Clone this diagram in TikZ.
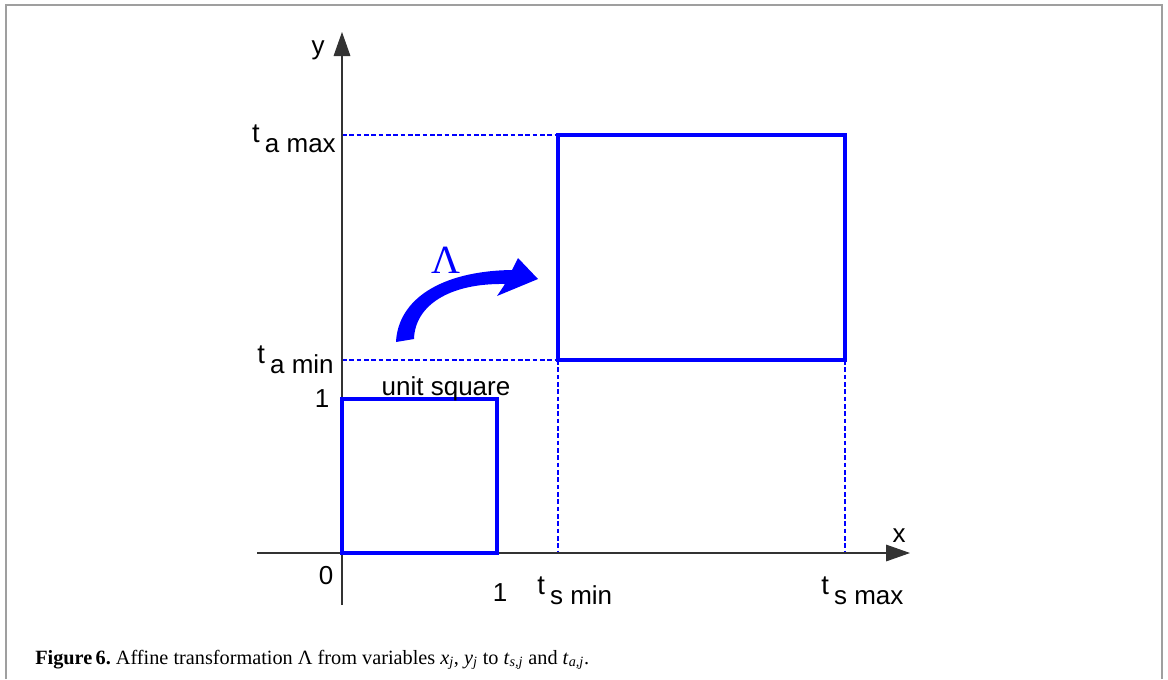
\documentclass[tikz,border=0pt]{standalone}
\usepackage{fontspec}
\setmainfont{Liberation Sans}
\newfontfamily\capfont{Liberation Serif}
\usetikzlibrary{arrows.meta}
\definecolor{pureblue}{RGB}{0,0,255}
\newcommand\tsub[1]{{\fontsize{20.5}{22}\selectfont t}\hspace{0.2em}\raisebox{-8pt}{#1}}
\newcommand\ivar[2]{\textit{#1}\textsubscript{\textit{#2}}}
\begin{document}
\frenchspacing
\begin{tikzpicture}[x=0.75pt,y=-0.75pt,
  lab/.style={inner sep=0pt,font=\fontsize{19.5}{22}\selectfont},
  axis/.style={black!80,line width=0.8pt,-{Triangle[length=18pt,width=12.5pt]}},
  box/.style={draw=pureblue,line width=2.8pt},
  guide/.style={draw=pureblue,line width=1pt,dash pattern=on 3.5pt off 2pt}]
\useasboundingbox (0,0) rectangle (1168,679);
\draw[gray!75,line width=1.5pt] (6,679) -- (6,5) -- (1162,5) -- (1162,679);
% guides
\coordinate (ay1) at (342,135);
\coordinate (ay2) at (342,360);
\coordinate (bx1) at (558,553);
\coordinate (bx2) at (845,553);
\draw[guide] (ay1) -- (558,135);
\draw[guide] (ay2) -- (558,360);
\draw[guide] (558,360) -- (bx1);
\draw[guide] (845,360) -- (bx2);
% axes
\coordinate (ybot) at (342,605);
\coordinate (ytop) at (342,32);
\coordinate (xl) at (257,553);
\coordinate (xr) at (910,553);
\draw[axis] (ybot) -- (ytop);
\draw[axis] (xl) -- (xr);
% boxes
\draw[box] (342,399) rectangle (497,553);
\draw[box] (558,135) rectangle (845,360);
% curved arrow
\fill[pureblue] (396,342) .. controls (398,300) and (440,271) .. (512,270)
  -- (518,258) -- (538,279) -- (497,296) -- (505,284)
  .. controls (450,283) and (415,305) .. (414,339) -- cycle;
\node[inner sep=0pt,anchor=base,text=pureblue,font=\capfont\fontsize{30}{32}\selectfont] (lam) at (446,273) {Λ};
% labels
\node[lab,anchor=base] (ylab) at (318,54) {y};
\node[lab,anchor=base] (xlab) at (899,542) {x};
\node[lab,anchor=base east] (tamax) at (336,142) {\tsub{a max}};
\node[lab,anchor=base east] (tamin) at (334,363) {\tsub{a min}};
\node[lab,anchor=base] (one1) at (322,407) {1};
\node[lab,anchor=base] (us) at (446,395) {unit square};
\node[lab,anchor=base] (zero) at (326,584) {0};
\node[lab,anchor=base] (one2) at (500,601) {1};
\node[lab,anchor=base west] (tsmin) at (537,594) {\tsub{s min}};
\node[lab,anchor=base west] (tsmax) at (821,594) {\tsub{s max}};
% caption
\node[inner sep=0pt,anchor=base west,font=\capfont\fontsize{15.2}{18}\selectfont] (cap) at (35,664)
  {\textbf{Figure\,6.} Affine transformation Λ from variables \ivar{x}{j}, \ivar{y}{j} to \ivar{t}{s,j} and \ivar{t}{a,j}.};
\end{tikzpicture}
\end{document}
